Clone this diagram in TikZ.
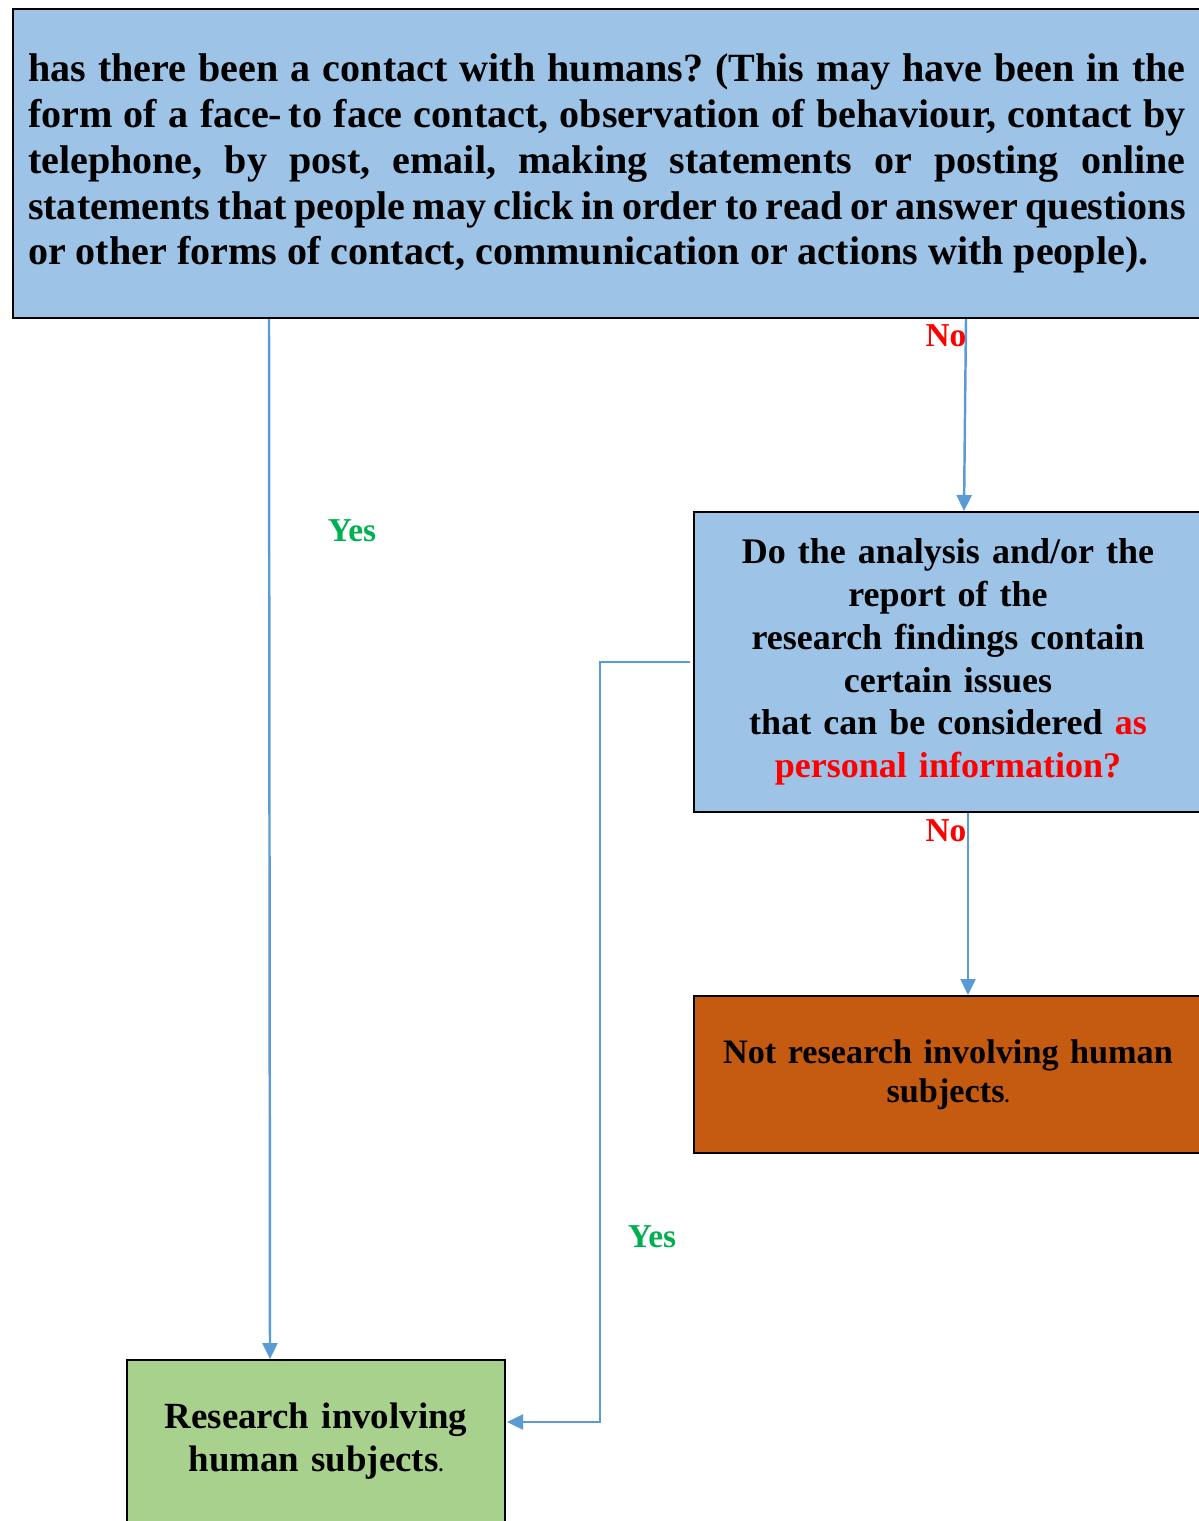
\documentclass[tikz,border=0pt]{standalone}
\usepackage{fontspec}
\setmainfont{Liberation Serif}
\usepackage{tikz}
\usetikzlibrary{arrows.meta,calc}
\definecolor{flowBlue}{HTML}{9DC3E6}
\definecolor{flowOrange}{HTML}{C55A11}
\definecolor{flowGreen}{HTML}{A9D18E}
\definecolor{flowArrow}{HTML}{5B9BD5}
\definecolor{flowYes}{HTML}{00B050}
\definecolor{flowNo}{HTML}{FF0000}
\frenchspacing

\begin{document}
\begin{tikzpicture}[x=0.02cm, y=-0.02cm,
    flowbox/.style={draw=black, line width=1.2pt, anchor=north west, font=\bfseries},
    flowarrow/.style={draw=flowArrow, line width=1.4pt, -{Triangle[length=0.32cm,width=0.3cm]}},
    yeslabel/.style={text=flowYes, font=\bfseries\fontsize{19}{22}\selectfont},
    nolabel/.style={text=flowNo, font=\bfseries\fontsize{19}{22}\selectfont}]
            \useasboundingbox (0,0) rectangle (1199,1521);
            \clip (0,0) rectangle (1199,1521);
            % boxes
            \node[flowbox, fill=flowBlue, minimum width=23.76cm, minimum height=6.18cm,
                  text width=23.16cm, inner xsep=0.3cm, align=justify,
                  font=\bfseries\fontsize{22.8}{26.1}\selectfont] (top) at (12,8)
                {has there been a contact with humans? (This may have been in the\linebreak
                 form of a face-\,to face contact, observation of behaviour, contact by\linebreak
                 telephone, by post, email, making statements or posting online\linebreak
                 statements that people may click in order to read or answer questions\linebreak
                 or other forms of contact, communication or actions with people).};
            \node[flowbox, fill=flowBlue, minimum width=10.16cm, minimum height=6cm,
                  text width=9.8cm, align=center,
                  font=\bfseries\fontsize{20.5}{24.4}\selectfont] (q2) at (693,511)
                {\rule{0pt}{0.08cm}Do the analysis and/or the\\ report of the\\ research findings contain\\
                 certain issues\\ that can be considered \textcolor{flowNo}{as}\\
                 \textcolor{flowNo}{personal information?}};
            \node[flowbox, fill=flowOrange, minimum width=10.16cm, minimum height=3.14cm,
                  text width=9.8cm, align=center,
                  font=\bfseries\fontsize{19.5}{22.4}\selectfont] (notres) at (693,995)
                {Not research involving human\\ subjects{\fontsize{11}{13}\selectfont.}};
            \node[flowbox, fill=flowGreen, minimum width=7.56cm, minimum height=3.24cm,
                  text width=7.2cm, align=center,
                  font=\bfseries\fontsize{21}{24.4}\selectfont] (res) at (126,1359)
                {Research involving\\ human subjects{\fontsize{11}{13}\selectfont.}};
            % connectors
            \draw[flowarrow] ($(top.south west)+(257,0)$) -- ($(res.north west)+(144,0)$);
            \draw[flowarrow] ($(top.south west)+(954,0)$) -- ($(q2.north west)+(271,0)$);
            \draw[flowarrow] ($(q2.south west)+(275,0)$) -- ($(notres.north west)+(275,0)$);
            \draw[flowarrow, shorten <=0.06cm] (q2.west) -| ($(res.north east)+(94,63)$)
                -- ($(res.north east)+(1,63)$);
            % labels
            \node[yeslabel] (yesA) at (352,531) {Yes};
            \node[nolabel] (noA) at (946,336) {No};
            \node[nolabel] (noB) at (946,831) {No};
            \node[yeslabel] (yesB) at (652,1237) {Yes};
        \end{tikzpicture}
\end{document}
